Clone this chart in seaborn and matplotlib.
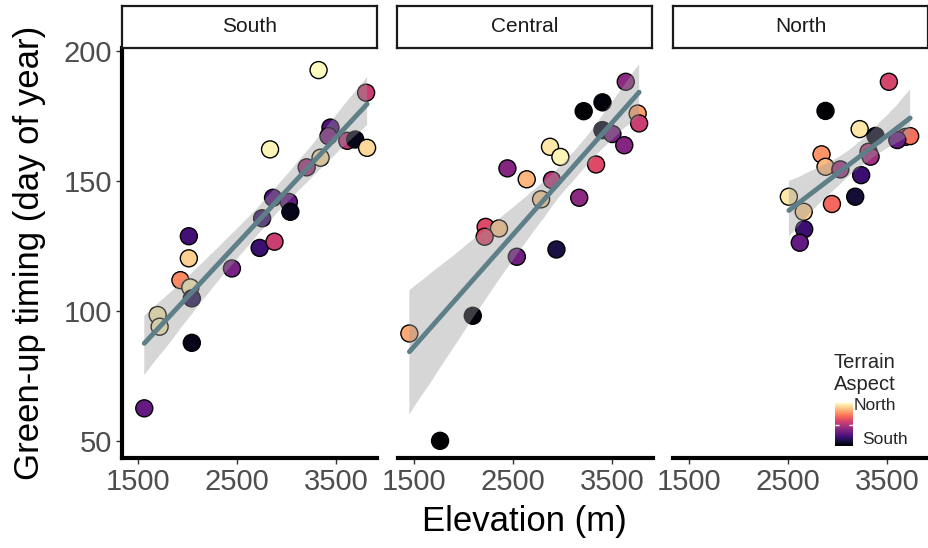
import numpy as np
import pandas as pd
import seaborn as sns
import matplotlib.pyplot as plt
from matplotlib.colors import Normalize
from matplotlib.colorbar import ColorbarBase
import matplotlib as mpl

regions = ["South", "Central", "North"]

south_elev = [3320, 3800, 3440, 3420, 3610, 3690, 3810, 2830, 3340, 3200, 2860, 3020, 3035,
              2750, 2725, 2875, 2445, 2010, 2010, 1925, 2025, 2040, 1695, 1715, 2040, 1560]
south_greenup = [192.7, 184, 170.6, 167.3, 165.5, 166, 162.8, 162.2, 159, 155.3, 143.6, 142, 138.2,
                 135.7, 124.3, 126.7, 116.4, 128.8, 120.3, 111.9, 109.1, 104.9, 98.5, 94, 87.8, 62.6]
south_aspect = [1.0, 0.1, -0.5, -0.3, 0.0, -0.9, 0.84, 0.96, 0.86, -0.1, -0.5, -0.4, -0.9,
                -0.6, -0.6, 0.1, -0.3, -0.56, 0.8, 0.5, 0.94, -0.7, 0.94, 0.94, -0.9, -0.4]

central_elev = [3640, 3215, 3405, 3760, 3775, 3405, 3505, 3625, 3340, 2875, 2980, 2445, 2640,
                2895, 2785, 3170, 2225, 2360, 2215, 2540, 2940, 2095, 1455, 1765]
central_greenup = [188.2, 176.9, 180.3, 176, 172.2, 169.6, 168.1, 163.8, 156.4, 163.2, 159.3, 154.9, 150.7,
                   150.4, 143, 143.6, 132.4, 131.8, 128.6, 120.9, 123.7, 98.2, 91.4, 50.1]
central_aspect = [-0.2, -1, -0.96, 0.6, 0.1, -0.9, -0.3, -0.24, 0.2, 0.9, 0.96, -0.24, 0.7,
                  0.0, 0.8, -0.2, 0.2, 0.76, 0.2, -0.34, -0.76, -0.96, 0.64, -1]

north_elev = [3515, 2875, 3220, 3380, 3680, 3730, 3600, 2835, 3310, 3330, 2875, 3025, 3235,
              2940, 3175, 2505, 2655, 2660, 2615]
north_greenup = [188.2, 177, 170, 167.4, 167, 167.3, 165.8, 160.3, 161.3, 159.4, 155.5, 154.5, 152.3,
                 141.2, 144, 144, 138.2, 131.5, 126.3]
north_aspect = [0.16, -1, 0.9, -0.9, 0.1, 0.4, -0.4, 0.56, 0.0, -0.1, 0.7, -0.1, -0.6,
                0.36, -0.8, 0.9, 0.8, -0.6, -0.4]

x_ticks = [1500, 2500, 3500]
y_ticks = [50, 100, 150, 200]

frames = []
for reg, e, g, a in [("South", south_elev, south_greenup, south_aspect),
                     ("Central", central_elev, central_greenup, central_aspect),
                     ("North", north_elev, north_greenup, north_aspect)]:
    frames.append(pd.DataFrame({"region": reg, "elev": e, "greenup": g, "aspect": a}))
df = pd.concat(frames, ignore_index=True)

sns.set_theme(style="white")
plt.rcParams['font.family'] = ['Liberation Sans', 'DejaVu Sans']

W, H = 929, 548
fig = plt.figure(figsize=(W / 100, H / 100), dpi=100)

lefts = [122, 397.5, 673]
pw = 255
ptop, pbot = 48, 458
gray = "#4d4d4d"

for i, reg in enumerate(regions):
    l = lefts[i]
    ax = fig.add_axes([l / W, (H - pbot) / H, pw / W, (pbot - ptop) / H])
    sub = df[df.region == reg]
    sns.scatterplot(data=sub, x="elev", y="greenup", hue="aspect", hue_norm=(-1, 1),
                    palette="magma", s=150, edgecolor="black", linewidth=1,
                    legend=False, ax=ax, zorder=1)
    n_before = len(ax.collections)
    sns.regplot(data=sub, x="elev", y="greenup", scatter=False, ax=ax,
                color="#5e7f88", line_kws=dict(lw=3.5), seed=0)
    for c in ax.collections[n_before:]:
        c.set_alpha(None)
        c.set_facecolor((0.6, 0.6, 0.6, 0.4))
        c.set_edgecolor("none")
        c.set_zorder(3)
    ax.lines[-1].set_zorder(4)
    ax.set_xlim(1335, 3910)
    ax.set_ylim(43.5, 201.2)
    ax.set_xticks(x_ticks)
    ax.set_xticklabels([str(t) for t in x_ticks])
    ax.set_xlabel("")
    ax.set_ylabel("")
    for s in ["top", "right"]:
        ax.spines[s].set_visible(False)
    ax.spines["bottom"].set_linewidth(3)
    ax.spines["bottom"].set_color("black")
    ax.tick_params(axis="x", bottom=True, length=4, width=1, color="#333333",
                   labelsize=21, labelcolor=gray, pad=3)
    if i == 0:
        ax.spines["left"].set_linewidth(3)
        ax.spines["left"].set_color("black")
        ax.set_yticks(y_ticks)
        ax.set_yticklabels([str(t) for t in y_ticks])
        ax.tick_params(axis="y", left=True, length=4, width=1, color="#333333",
                       labelsize=21, labelcolor=gray, pad=3)
    else:
        ax.spines["left"].set_visible(False)
        ax.set_yticks(y_ticks)
        ax.tick_params(axis="y", left=False, labelleft=False)
    ax.set_facecolor("white")

    # strip
    sax = fig.add_axes([l / W, (H - 48) / H, pw / W, 42 / H])
    sax.set_xticks([])
    sax.set_yticks([])
    sax.set_facecolor("white")
    for s in sax.spines.values():
        s.set_linewidth(1.6)
        s.set_color("#1a1a1a")
    sax.text(0.5, 0.5, reg, ha="center", va="center", fontsize=15, color="#1a1a1a",
             transform=sax.transAxes)

fig.text(30 / W, (H - 253) / H, "Green-up timing (day of year)", rotation=90,
         ha="center", va="center", fontsize=25, color="black")
fig.text(524 / W, (H - 522) / H, "Elevation (m)", ha="center", va="center",
         fontsize=25, color="black")

# colour legend
fig.text(834 / W, (H - 362) / H, "Terrain", ha="left", va="center", fontsize=14.5)
fig.text(834 / W, (H - 385) / H, "Aspect", ha="left", va="center", fontsize=14.5)
cax = fig.add_axes([835 / W, (H - 446) / H, 18 / W, 43 / H])
cb = ColorbarBase(cax, cmap=mpl.colormaps["magma"], norm=Normalize(-1, 1), orientation="vertical")
cb.outline.set_visible(False)
cax.set_yticks([])
cax.set_xticks([])
cax.hlines(0, 0, 0.2, color="white", lw=1)
cax.hlines(0, 0.8, 1, color="white", lw=1)
fig.text(854 / W, (H - 405) / H, "North", ha="left", va="center", fontsize=12.5)
fig.text(862 / W, (H - 440) / H, "South", ha="left", va="center", fontsize=12.5)

fig.savefig("out.png", dpi=100)
